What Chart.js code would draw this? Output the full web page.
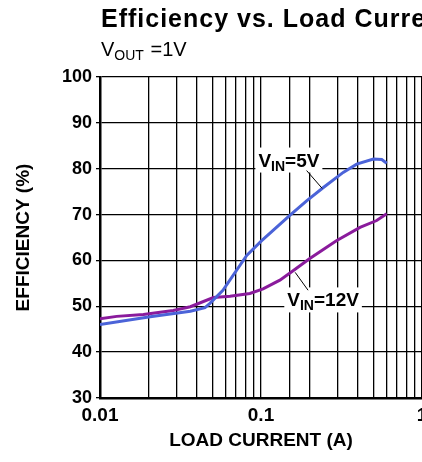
<!DOCTYPE html>
<html>
<head>
<meta charset="utf-8">
<script src="https://cdn.jsdelivr.net/npm/chart.js@4/dist/chart.umd.min.js"></script>
<style>
  html, body { margin: 0; padding: 0; background: #fff; }
  #wrap { width: 422px; height: 462px; position: relative; }
</style>
</head>
<body>
<div id="wrap"><canvas id="chart"></canvas></div>
<script>
// values
const current5V = [0.01, 0.0205, 0.0364, 0.0449, 0.048, 0.058, 0.0815, 0.101, 0.151, 0.192, 0.244, 0.324, 0.393, 0.499, 0.562, 0.604];
const eff5V = [46.0, 47.7, 48.9, 49.7, 50.6, 53.5, 61.1, 64.3, 69.8, 73.0, 75.9, 79.2, 81.0, 82.1, 82.0, 81.2];

const current12V = [0.01, 0.0127, 0.0186, 0.0285, 0.0364, 0.0506, 0.0642, 0.0853, 0.103, 0.131, 0.159, 0.201, 0.294, 0.412, 0.523, 0.604];
const eff12V = [47.3, 47.8, 48.2, 49.1, 49.9, 51.9, 52.2, 52.8, 53.8, 55.7, 57.8, 60.4, 64.3, 67.2, 68.7, 70.2];

const xTickLabels = [0.01, 0.1, 1];

// curve labels, anchored in data units, with a leader line to the curve
const curveLabels = [
    { main: 'V', sub: 'IN', rest: '=5V', x: 0.149, y: 82.0, line: [0.192, 79.6, 0.24, 75.7] },
    { main: 'V', sub: 'IN', rest: '=12V', x: 0.243, y: 51.5, line: [0.163, 57.4, 0.196, 53.5] },
];

const FONT = '"Liberation Sans", Arial, sans-serif';

const toPoints = (xs, ys) => xs.map((x, i) => ({ x, y: ys[i] }));

const textPlugin = {
    id: 'texts',
    afterDraw(chart) {
        const { ctx, scales: { x, y } } = chart;
        ctx.save();
        // title
        ctx.fillStyle = '#000';
        ctx.textBaseline = 'alphabetic';
        ctx.textAlign = 'left';
        ctx.font = `bold 25px ${FONT}`;
        ctx.letterSpacing = '1px';
        ctx.fillText('Efficiency vs. Load Current', 101, 27);
        ctx.letterSpacing = '0px';
        // subtitle V_OUT =1V
        ctx.font = `20px ${FONT}`;
        ctx.fillText('V', 101, 56);
        let w = ctx.measureText('V').width;
        ctx.font = `14px ${FONT}`;
        ctx.fillText('OUT', 101 + w, 60);
        w += ctx.measureText('OUT').width;
        ctx.font = `20px ${FONT}`;
        ctx.fillText(' =1V', 101 + w + 1, 56);

        // curve labels
        curveLabels.forEach(l => {
            const cx = x.getPixelForValue(l.x);
            const cy = y.getPixelForValue(l.y);
            ctx.font = `bold 19px ${FONT}`;
            const w1 = ctx.measureText(l.main).width;
            const w3 = ctx.measureText(l.rest).width;
            ctx.font = `bold 14px ${FONT}`;
            const w2 = ctx.measureText(l.sub).width;
            const total = w1 + w2 + w3;
            const left = cx - total / 2;
            ctx.fillStyle = '#fff';
            ctx.fillRect(left - 3, cy - 12, total + 6, 25);
            ctx.fillStyle = '#000';
            ctx.font = `bold 19px ${FONT}`;
            ctx.fillText(l.main, left, cy + 7);
            ctx.font = `bold 14px ${FONT}`;
            ctx.fillText(l.sub, left + w1, cy + 11);
            ctx.font = `bold 19px ${FONT}`;
            ctx.fillText(l.rest, left + w1 + w2, cy + 7);

            ctx.strokeStyle = '#000';
            ctx.lineWidth = 1;
            ctx.beginPath();
            ctx.moveTo(x.getPixelForValue(l.line[0]), y.getPixelForValue(l.line[1]));
            ctx.lineTo(x.getPixelForValue(l.line[2]), y.getPixelForValue(l.line[3]));
            ctx.stroke();
        });
        ctx.restore();
    }
};

new Chart(document.getElementById('chart'), {
    type: 'line',
    data: {
        datasets: [
            {
                label: 'VIN=5V',
                data: toPoints(current5V, eff5V),
                borderColor: '#4b63d8',
                borderWidth: 3,
                pointRadius: 0,
                tension: 0,
            },
            {
                label: 'VIN=12V',
                data: toPoints(current12V, eff12V),
                borderColor: '#8a1b9c',
                borderWidth: 3,
                pointRadius: 0,
                tension: 0,
            },
        ],
    },
    options: {
        responsive: true,
        maintainAspectRatio: false,
        animation: false,
        layout: { padding: { top: 77, right: 0, bottom: 0, left: 0 } },
        plugins: {
            legend: { display: false },
            tooltip: { enabled: false },
        },
        scales: {
            x: {
                type: 'logarithmic',
                min: 0.01,
                max: 1,
                afterFit(scale) {
                    scale.height = 64;
                    scale.paddingLeft = 0;
                    scale.paddingRight = 0;
                },
                grid: {
                    color: '#000',
                    lineWidth: 1.3,
                    drawTicks: false,
                },
                border: { color: '#000', width: 2.5 },
                ticks: {
                    autoSkip: false,
                    maxRotation: 0,
                    padding: 6,
                    color: '#000',
                    font: { size: 19, weight: 'bold', family: FONT },
                    callback: (v) => xTickLabels.includes(Number(v)) ? String(v) : '',
                },
                title: {
                    display: true,
                    text: 'LOAD CURRENT (A)',
                    color: '#000',
                    font: { size: 19, weight: 'bold', family: FONT },
                    padding: { top: 0, bottom: 10 },
                },
            },
            y: {
                min: 30,
                max: 100,
                afterFit(scale) {
                    scale.width = 100;
                },
                grid: {
                    color: '#000',
                    lineWidth: 1.3,
                    tickLength: 4,
                },
                border: { color: '#000', width: 2.5 },
                ticks: {
                    stepSize: 10,
                    padding: 4,
                    color: '#000',
                    font: { size: 18, weight: 'bold', family: FONT },
                },
                title: {
                    display: true,
                    text: 'EFFICIENCY (%)',
                    color: '#000',
                    font: { size: 19, weight: 'bold', family: FONT },
                    padding: { top: 12, bottom: 0 },
                },
            },
        },
    },
    plugins: [textPlugin],
});
</script>
</body>
</html>
